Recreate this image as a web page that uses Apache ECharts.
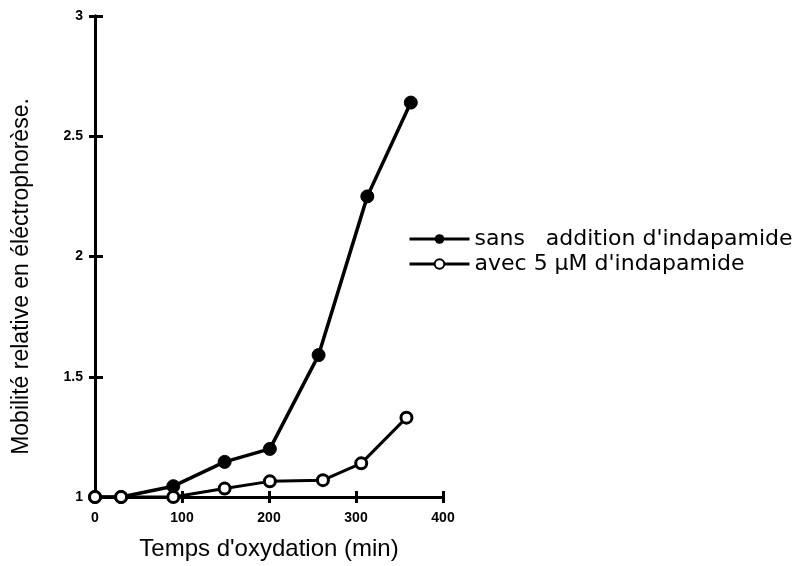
<!DOCTYPE html>
<html><head><meta charset="utf-8">
<script src="https://cdn.jsdelivr.net/npm/echarts@6/dist/echarts.min.js"></script>
<style>html,body{margin:0;padding:0;background:#fff}#c{width:801px;height:566px}</style>
</head><body><div id="c"></div>
<script>
const xTicks = [0, 100, 200, 300, 400];
const yTicks = [1, 1.5, 2, 2.5, 3];
const seriesNames = ["sans   addition d'indapamide", "avec 5 \u00b5M d'indapamide"];
const sansX = [0, 30, 90, 149, 201, 257, 313, 363];
const sansY = [1.0, 1.0, 1.045, 1.146, 1.2, 1.59, 2.25, 2.64];
const avecX = [0, 30, 90, 149, 201, 262, 306, 358];
const avecY = [1.0, 1.0, 1.0, 1.035, 1.065, 1.07, 1.14, 1.33];

const pair = (xs, ys) => xs.map((x, i) => [x, ys[i]]);
const chart = echarts.init(document.getElementById('c'));
const font = 'Liberation Sans, Arial, Helvetica, sans-serif';
const xBase = {type:'value', min:xTicks[0], max:xTicks[xTicks.length-1], interval:100, splitLine:{show:false},
  axisLine:{onZero:false, lineStyle:{color:'#000', width:3}}};
const yBase = {type:'value', min:yTicks[0], max:yTicks[yTicks.length-1], interval:0.5, splitLine:{show:false},
  axisLine:{onZero:false, lineStyle:{color:'#000', width:3}}};
chart.setOption({
  backgroundColor:'#fff',
  animation:false,
  grid:{left:95, right:358, top:16, bottom:68},
  legend:{
    orient:'vertical', left:403, top:223, itemGap:3, itemWidth:60, itemHeight:12,
    lineStyle:{width:3},
    textStyle:{fontFamily:'DejaVu Sans, Verdana, sans-serif', fontSize:22, color:'#000'},
    data:[seriesNames[0], seriesNames[1]]
  },
  xAxis:[
    Object.assign({}, xBase, {
      name:"Temps d'oxydation (min)", nameLocation:'middle', nameGap:40,
      nameTextStyle:{fontFamily:font, fontSize:24, color:'#000'},
      axisTick:{inside:false, length:6, lineStyle:{color:'#000', width:3}},
      axisLabel:{fontFamily:font, fontSize:14, fontWeight:'bold', color:'#000', margin:14}
    }),
    Object.assign({}, xBase, {position:'bottom', axisTick:{inside:true, length:6, lineStyle:{color:'#000', width:3}}, axisLabel:{show:false}})
  ],
  yAxis:[
    Object.assign({}, yBase, {
      name:'Mobilit\u00e9 relative en \u00e9l\u00e9ctrophor\u00e8se.', nameLocation:'middle', nameGap:62,
      nameTextStyle:{fontFamily:font, fontSize:23, color:'#000', padding:[0, 40, 0, 0]},
      axisTick:{inside:false, length:6, lineStyle:{color:'#000', width:3}},
      axisLabel:{fontFamily:font, fontSize:14, fontWeight:'bold', color:'#000', margin:12}
    }),
    Object.assign({}, yBase, {position:'left', axisTick:{inside:true, length:8, lineStyle:{color:'#000', width:3}}, axisLabel:{show:false}})
  ],
  series:[
    {name:seriesNames[0], type:'line', data:pair(sansX, sansY), symbol:'circle', symbolSize:13,
      lineStyle:{color:'#000', width:3.5}, itemStyle:{color:'#000', borderColor:'#000'}, z:3},
    {name:seriesNames[1], type:'line', data:pair(avecX, avecY), symbol:'circle', symbolSize:11,
      lineStyle:{color:'#000', width:3}, itemStyle:{color:'#fff', borderColor:'#000', borderWidth:3}, z:4}
  ]
});
</script></body></html>
